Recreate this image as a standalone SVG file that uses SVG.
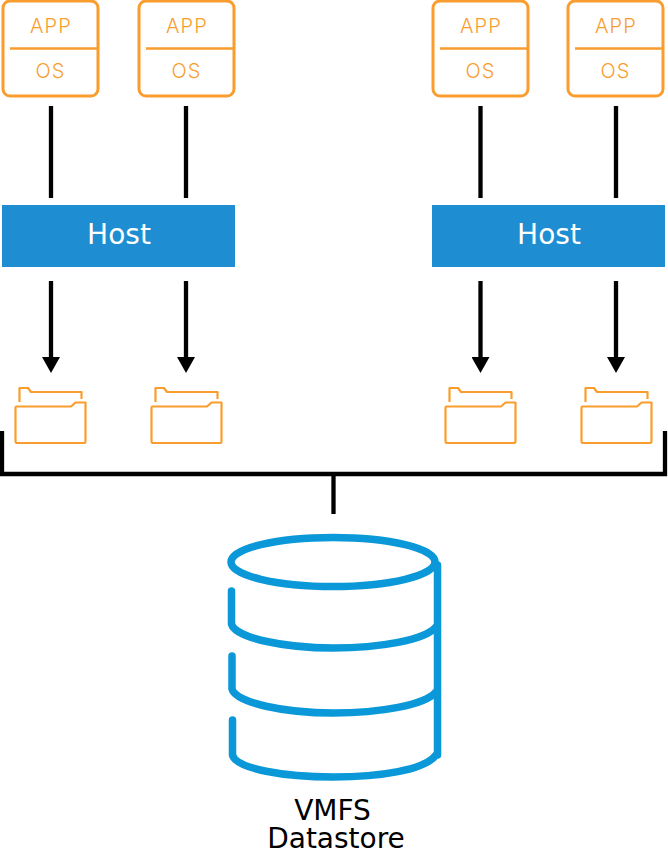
<svg xmlns="http://www.w3.org/2000/svg" width="668" height="862" viewBox="0 0 668 862">
<style>
.box{fill:#fff;stroke:#f99d2e;stroke-width:3}
.div{stroke:#f99d2e;stroke-width:2.4;fill:none}
.vm{font-family:"Inter",sans-serif;font-weight:300;font-size:20px;fill:#f99d2e;text-anchor:middle;letter-spacing:1.2px}
.host{fill:#1f8dd2}
.hl{font-family:"DejaVu Sans",sans-serif;font-size:28px;fill:#fff;text-anchor:middle}
.fo{fill:none;stroke:#f99d2e;stroke-width:2.2;stroke-linejoin:round}
.ln{stroke:#000;stroke-width:4.300;fill:none}
.cy{fill:none;stroke:#0a98d8;stroke-width:7.500;stroke-linecap:round}
.lb{font-family:"DejaVu Sans",sans-serif;font-size:28px;fill:#000;text-anchor:middle}
</style>
<defs>
<marker id="ah" markerUnits="userSpaceOnUse" markerWidth="17" markerHeight="18" refX="0" refY="9" orient="auto"><path d="M0 0L16 9L0 18Z" fill="#000"/></marker>
<g id="vmshape"><rect class="box" x="3" y="1" width="95" height="95" rx="7"/><path class="div" d="M10 48.500H98"/><text class="vm" x="51" y="32.500">APP</text><text class="vm" x="50.500" y="77.500">OS</text></g>
<g id="foldershape"><path class="fo" d="M19.500 402V388H28L31 392H81.500V399"/><path class="fo" d="M15.500 407.500Q15.500 406.500 16.500 406.500H71L75.500 402.500H85.500V441Q85.500 443 84 443H17Q15.500 443 15.500 441Z"/></g>
</defs>
<g id="connectors">
<path class="ln" d="M51 106V198M186 106V198M480.500 106V198M616 106V198"/>
<path class="ln" marker-end="url(#ah)" d="M51 281V357"/>
<path class="ln" marker-end="url(#ah)" d="M186 281V357"/>
<path class="ln" marker-end="url(#ah)" d="M480.500 281V357"/>
<path class="ln" marker-end="url(#ah)" d="M616 281V357"/>
<path class="ln" d="M2 431V474H665V431M333.500 474V514"/>
</g>
<g id="vm1"><use href="#vmshape"/></g>
<g id="vm2"><use href="#vmshape" x="136"/></g>
<g id="vm3"><use href="#vmshape" x="430"/></g>
<g id="vm4"><use href="#vmshape" x="565"/></g>
<g id="host1"><rect class="host" x="2" y="205" width="233" height="62"/><text class="hl" x="119" y="244">Host</text></g>
<g id="host2"><rect class="host" x="432" y="205" width="233" height="62"/><text class="hl" x="549" y="244">Host</text></g>
<g id="folder1"><use href="#foldershape"/></g>
<g id="folder2"><use href="#foldershape" x="136"/></g>
<g id="folder3"><use href="#foldershape" x="430"/></g>
<g id="folder4"><use href="#foldershape" x="566"/></g>
<g id="datastore">
<ellipse class="cy" cx="333" cy="562" rx="102" ry="24.500"/>
<path class="cy" d="M437.500 565V755"/>
<path class="cy" d="M231.500 591V624C235 638 285 648 333 648C380 648 425 640 436 627"/>
<path class="cy" d="M232 656V689C236 703 285 713 333 713C380 713 425 705 436 692"/>
<path class="cy" d="M232.500 720V755C236 769 285 777 333 777C380 777 425 770 436 755"/>
<text class="lb" x="332.500" y="820">VMFS</text>
<text class="lb" x="336" y="848">Datastore</text>
</g>
</svg>
